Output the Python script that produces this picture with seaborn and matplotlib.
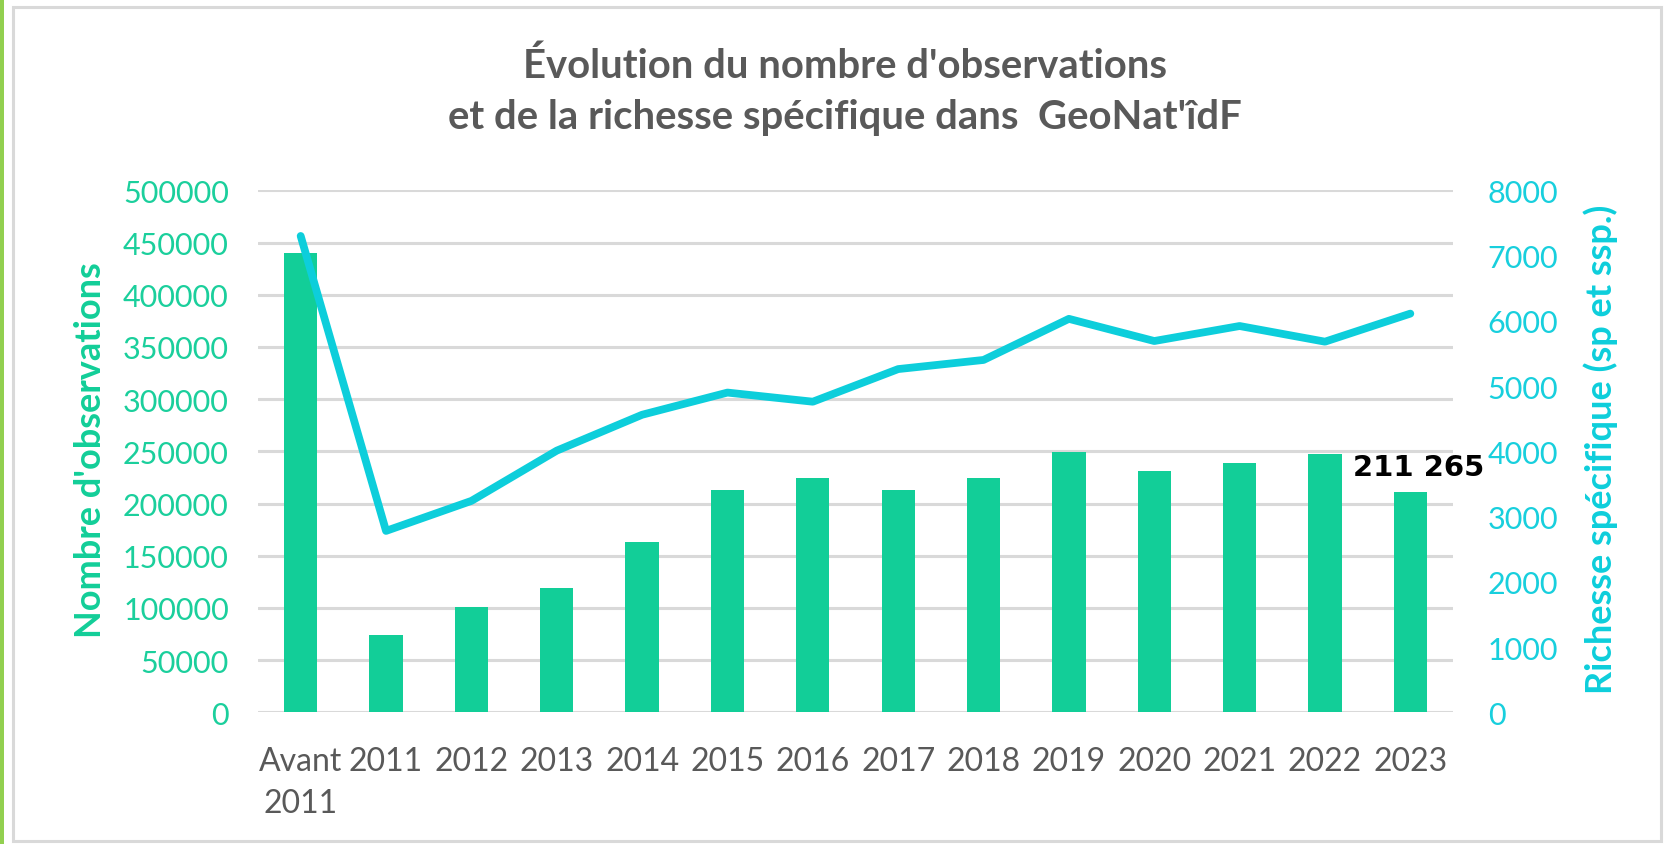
import numpy as np
import pandas as pd
import matplotlib
matplotlib.use("Agg")
import matplotlib.pyplot as plt
from matplotlib.patches import Rectangle
import seaborn as sns

# ---- data ----
categories = ["Avant\n2011", "2011", "2012", "2013", "2014", "2015", "2016",
              "2017", "2018", "2019", "2020", "2021", "2022", "2023"]
observations = [440000, 74000, 101000, 118700, 163500, 213000, 224000,
                213000, 224000, 249000, 231000, 238500, 247500, 211265]
richesse = [7300, 2780, 3240, 4010, 4560, 4900, 4760,
            5260, 5400, 6030, 5690, 5920, 5680, 6110]
left_ticks = [0, 50000, 100000, 150000, 200000, 250000, 300000, 350000, 400000, 450000, 500000]
right_ticks = [0, 1000, 2000, 3000, 4000, 5000, 6000, 7000, 8000]
title = "Évolution du nombre d'observations\net de la richesse spécifique dans  GeoNat'îdF"
left_label = "Nombre d'observations"
right_label = "Richesse spécifique (sp et ssp.)"
last_label = "211 265"

BAR = "#12CE98"
LINE = "#0DCEDB"
GRID = "#D9D9D9"
GREY = "#595959"

sns.set_theme(style="white")
plt.rcParams["font.family"] = ["Lato", "DejaVu Sans"]

fig = plt.figure(figsize=(16.66, 8.45), dpi=100)
fig.patch.set_facecolor("white")

# frame and green stripe
fig.patches.append(Rectangle((12.5 / 1666, 1 - 841.5 / 845), (1660.5 - 12.5) / 1666,
                             (841.5 - 7.5) / 845, transform=fig.transFigure,
                             fill=False, edgecolor=GRID, linewidth=2.2, zorder=0))
fig.patches.append(Rectangle((0, 0), 3.5 / 1666, 1, transform=fig.transFigure,
                             facecolor="#92D050", edgecolor="none", zorder=0))

ax = fig.add_axes([258 / 1666, 1 - 713.3 / 845, (1453 - 258) / 1666, (713.3 - 191.3) / 845])
df = pd.DataFrame({"cat": categories, "obs": observations, "rich": richesse})

sns.barplot(data=df, x="cat", y="obs", ax=ax, color=BAR, width=0.39,
            saturation=1, edgecolor="none", zorder=3)
ax.set_ylim(0, 500000)
ax.set_yticks(left_ticks)
ax.set_yticklabels([str(t) for t in left_ticks])
ax.set_xlim(-0.5, len(categories) - 0.5)
ax.grid(axis="y", color=GRID, linewidth=2.2, zorder=0)
ax.grid(axis="x", visible=False)
ax.set_axisbelow(True)
for s in ax.spines.values():
    s.set_visible(False)
ax.tick_params(axis="y", length=0, pad=21, labelsize=22, labelcolor="#1BCF9C")
ax.tick_params(axis="x", length=0, pad=24, labelsize=23, labelcolor=GREY)
for lab in ax.get_xticklabels():
    lab.set_linespacing(1.5)
ax.set_xlabel("")
ax.set_ylabel(left_label, fontsize=26, fontweight="bold", color=BAR)
ax.yaxis.set_label_coords(-0.1265, 0.505)

ax2 = ax.twinx()
sns.lineplot(x=np.arange(len(categories)), y=df["rich"], ax=ax2, color=LINE,
             linewidth=5.6, sort=False)
for ln in ax2.get_lines():
    ln.set_solid_capstyle("round")
    ln.set_solid_joinstyle("round")
ax2.set_ylim(0, 8000)
ax2.set_yticks(right_ticks)
ax2.set_yticklabels([str(t) for t in right_ticks])
ax2.set_xlim(-0.5, len(categories) - 0.5)
ax2.grid(False)
for s in ax2.spines.values():
    s.set_visible(False)
ax2.tick_params(axis="y", length=0, pad=25, labelsize=22, labelcolor="#18CFDD")
ax2.set_ylabel(right_label, fontsize=26, fontweight="bold", color=LINE, rotation=90)
ax2.yaxis.set_label_coords(1.109, 0.505)

# data label on the last bar
last = len(categories) - 1
ax.text(last + 0.1, observations[last] + 24000, last_label, ha="center", va="center",
        fontsize=21, fontweight="bold", color="black", family=["DejaVu Sans"], zorder=6)

fig.text(845 / 1666, 1 - 91.5 / 845, title, ha="center", va="center", fontsize=28.8,
         fontweight="bold", color=GREY, linespacing=1.45)

fig.savefig("out.png", dpi=100, facecolor="white")
